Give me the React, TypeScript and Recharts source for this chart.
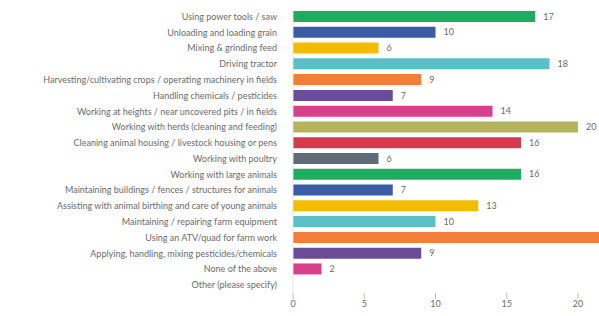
import { BarChart, Bar, XAxis, YAxis, Cell, LabelList } from "recharts";

const activities = [
  "Using power tools / saw",
  "Unloading and loading grain",
  "Mixing & grinding feed",
  "Driving tractor",
  "Harvesting/cultivating crops / operating machinery in fields",
  "Handling chemicals / pesticides",
  "Working at heights / near uncovered pits / in fields",
  "Working with herds (cleaning and feeding)",
  "Cleaning animal housing / livestock housing or pens",
  "Working with poultry",
  "Working with large animals",
  "Maintaining buildings / fences / structures for animals",
  "Assisting with animal birthing and care of young animals",
  "Maintaining / repairing farm equipment",
  "Using an ATV/quad for farm work",
  "Applying, handling, mixing pesticides/chemicals",
  "None of the above",
  "Other (please specify)",
];

const counts = [17, 10, 6, 18, 9, 7, 14, 20, 16, 6, 16, 7, 13, 10, 23, 9, 2, 0];

const palette = [
  "#1eac60",
  "#3b5ba5",
  "#f4bc00",
  "#5bbfc8",
  "#f37e3a",
  "#6b4c9a",
  "#d6408c",
  "#b4b45e",
  "#d63a4d",
  "#5f6b78",
];

const xTicks = [0, 5, 10, 15, 20];

const data = activities.map((name, i) => ({ name, value: counts[i] }));

const textStyle = { fontSize: 9, fill: "#6b6b6b", fontFamily: "Lato" };

// plain tick so recharts doesn't wrap the long labels
function CategoryTick(props: any) {
  const { x, y, payload } = props;
  return (
    <text x={x - 8} y={y} dy={3} textAnchor="end" style={textStyle}>
      {payload.value}
    </text>
  );
}

export default function App() {
  return (
    <div style={{ position: "absolute", left: 0, top: 0, width: 599, height: 316, overflow: "hidden", background: "#fff" }}>
      <BarChart
        width={640}
        height={316}
        data={data}
        layout="vertical"
        margin={{ top: 9, right: 5, left: 0, bottom: 3 }}
      >
        <XAxis
          type="number"
          domain={[0, 24]}
          ticks={xTicks}
          axisLine={false}
          tickLine={{ stroke: "#bfbfbf" }}
          tick={textStyle}
          height={20}
        />
        <YAxis
          type="category"
          dataKey="name"
          width={293}
          interval={0}
          axisLine={{ stroke: "#e3e3e3" }}
          tickLine={false}
          tick={<CategoryTick />}
        />
        <Bar dataKey="value" barSize={11} isAnimationActive={false}>
          {data.map((d, i) => (
            <Cell key={d.name} fill={palette[i % palette.length]} />
          ))}
          <LabelList
            dataKey="value"
            position="right"
            offset={8}
            formatter={(v: number) => (v === 0 || v > 21 ? "" : v)}
            style={textStyle}
          />
        </Bar>
      </BarChart>
    </div>
  );
}
